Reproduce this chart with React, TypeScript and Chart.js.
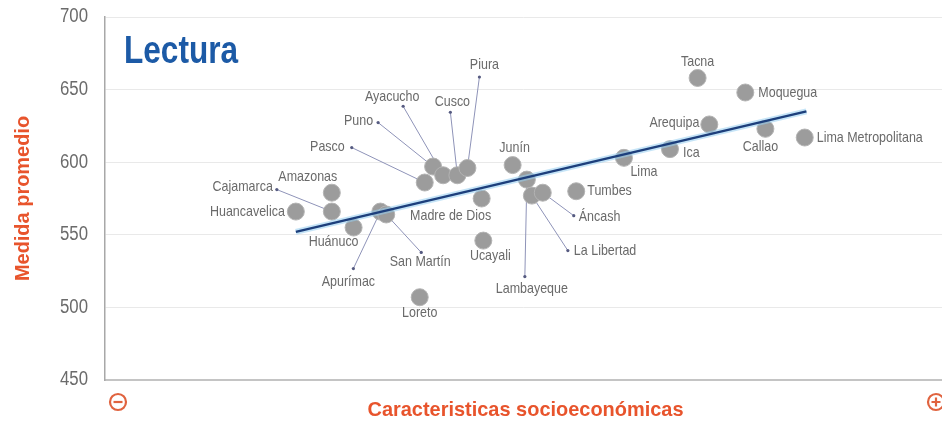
import React, { useEffect, useRef } from "react";
import { Chart, registerables } from "chart.js";

Chart.register(...registerables);

// ---------- data ----------
const regions = [
  "Huancavelica", "Cajamarca", "Amazonas", "Huánuco", "Apurímac", "San Martín",
  "Loreto", "Pasco", "Puno", "Ayacucho", "Cusco", "Piura", "Madre de Dios",
  "Ucayali", "Junín", "Lambayeque", "La Libertad", "Áncash", "Tumbes", "Lima",
  "Ica", "Tacna", "Arequipa", "Moquegua", "Callao", "Lima Metropolitana",
];
const socioeconomicIndex = [
  22.8, 27.1, 27.1, 29.7, 32.9, 33.6,
  37.6, 38.2, 39.2, 40.4, 42.1, 43.3, 45.0,
  45.2, 48.7, 50.4, 51.0, 52.3, 56.3, 62.0,
  67.5, 70.8, 72.2, 76.5, 78.9, 83.6,
];
const readingScore = [
  566, 566, 579, 555, 566, 564,
  507, 586, 597, 591, 591, 596, 575,
  546, 598, 588, 577, 579, 580, 603,
  609, 658, 626, 648, 623, 617,
];
const trendX = [22.8, 83.8];
const trendY = [552, 635];
const yTickValues = [450, 500, 550, 600, 650, 700];

const chartTitle = "Lectura";
const yTitle = "Medida promedio";
const xTitle = "Caracteristicas socioeconómicas";

// ---------- label placement (pixel offsets from each point) ----------
type LabelPos = { dx: number; dy: number; align: CanvasTextAlign; mx?: number; my?: number };
const labelPlacement: Record<string, LabelPos> = {
  "Huancavelica": { dx: -11, dy: 0, align: "right" },
  "Cajamarca": { dx: -59, dy: -25, align: "right", mx: -55, my: -22 },
  "Amazonas": { dx: -24, dy: -16, align: "center" },
  "Huánuco": { dx: -20, dy: 14, align: "center" },
  "Apurímac": { dx: -32, dy: 70, align: "center", mx: -27, my: 57 },
  "San Martín": { dx: 34, dy: 48, align: "center", mx: 35, my: 38 },
  "Loreto": { dx: 0, dy: 16, align: "center" },
  "Pasco": { dx: -80, dy: -36, align: "right", mx: -73, my: -35 },
  "Puno": { dx: -60, dy: -46, align: "right", mx: -55, my: -44 },
  "Ayacucho": { dx: -51, dy: -78, align: "center", mx: -40, my: -69 },
  "Cusco": { dx: -5, dy: -73, align: "center", mx: -7, my: -63 },
  "Piura": { dx: 17, dy: -103, align: "center", mx: 12, my: -91 },
  "Madre de Dios": { dx: -31, dy: 17, align: "center" },
  "Ucayali": { dx: 7, dy: 15, align: "center" },
  "Junín": { dx: 2, dy: -17, align: "center" },
  "Lambayeque": { dx: 5, dy: 109, align: "center", mx: -2, my: 97 },
  "La Libertad": { dx: 42, dy: 55, align: "left", mx: 36, my: 55 },
  "Áncash": { dx: 36, dy: 24, align: "left", mx: 31, my: 23 },
  "Tumbes": { dx: 11, dy: 0, align: "left" },
  "Lima": { dx: 20, dy: 14, align: "center" },
  "Ica": { dx: 13, dy: 4, align: "left" },
  "Tacna": { dx: 0, dy: -16, align: "center" },
  "Arequipa": { dx: -10, dy: -1, align: "right" },
  "Moquegua": { dx: 13, dy: 0, align: "left" },
  "Callao": { dx: -5, dy: 18, align: "center" },
  "Lima Metropolitana": { dx: 12, dy: 0, align: "left" },
};

const FONT = '"Liberation Sans", Arial, sans-serif';
const ORANGE = "#e8542c";
const POINT_DS = 2;

function squeezedText(
  ctx: CanvasRenderingContext2D, text: string, x: number, y: number,
  align: CanvasTextAlign, sx: number,
) {
  ctx.save();
  ctx.translate(x, y);
  ctx.scale(sx, 1);
  ctx.textAlign = align;
  ctx.fillText(text, 0, 0);
  ctx.restore();
}

const decorPlugin = {
  id: "decor",
  beforeDatasetsDraw(chart: any) {
    const ctx = chart.ctx;
    const meta = chart.getDatasetMeta(POINT_DS);
    ctx.save();
    regions.forEach((name, i) => {
      const p = labelPlacement[name];
      const el = meta.data[i];
      if (!p || p.mx === undefined || !el) return;
      const mx = el.x + p.mx;
      const my = el.y + (p.my as number);
      ctx.strokeStyle = "#8e93b8";
      ctx.lineWidth = 1;
      ctx.beginPath();
      ctx.moveTo(mx, my);
      ctx.lineTo(el.x, el.y);
      ctx.stroke();
      ctx.fillStyle = "#555a80";
      ctx.beginPath();
      ctx.arc(mx, my, 1.6, 0, Math.PI * 2);
      ctx.fill();
    });
    ctx.restore();
  },
  afterDatasetsDraw(chart: any) {
    const ctx = chart.ctx;
    const meta = chart.getDatasetMeta(POINT_DS);
    ctx.save();
    ctx.font = `14.5px ${FONT}`;
    ctx.fillStyle = "#6a6a6a";
    ctx.textBaseline = "middle";
    regions.forEach((name, i) => {
      const p = labelPlacement[name];
      const el = meta.data[i];
      if (!p || !el) return;
      squeezedText(ctx, name, el.x + p.dx, el.y + p.dy, p.align, 0.86);
    });
    ctx.restore();
  },
  afterDraw(chart: any) {
    const ctx = chart.ctx;
    const area = chart.chartArea;
    const yScale = chart.scales.y;
    ctx.save();
    // y tick labels
    ctx.font = `19.5px ${FONT}`;
    ctx.fillStyle = "#6b6b6b";
    ctx.textBaseline = "middle";
    yTickValues.forEach((v) => {
      squeezedText(ctx, String(v), area.left - 17, yScale.getPixelForValue(v), "right", 0.86);
    });
    // title inside plot
    ctx.font = `bold 39px ${FONT}`;
    ctx.fillStyle = "#1c5aa6";
    ctx.textBaseline = "alphabetic";
    squeezedText(ctx, chartTitle, area.left + 19, 63, "left", 0.81);
    // y axis title
    ctx.save();
    ctx.translate(23, (area.top + area.bottom) / 2);
    ctx.rotate(-Math.PI / 2);
    ctx.font = `bold 21px ${FONT}`;
    ctx.fillStyle = ORANGE;
    ctx.textBaseline = "middle";
    squeezedText(ctx, yTitle, 0, 0, "center", 0.95);
    ctx.restore();
    // x axis title
    ctx.font = `bold 21px ${FONT}`;
    ctx.fillStyle = ORANGE;
    ctx.textBaseline = "middle";
    squeezedText(ctx, xTitle, (area.left + area.right) / 2 + 2, 410, "center", 0.95);
    // minus / plus symbols
    const sym = (cx: number, cy: number, plus: boolean) => {
      ctx.strokeStyle = "#e0633f";
      ctx.lineWidth = 2.2;
      ctx.beginPath();
      ctx.arc(cx, cy, 8, 0, Math.PI * 2);
      ctx.stroke();
      ctx.beginPath();
      ctx.moveTo(cx - 4.5, cy);
      ctx.lineTo(cx + 4.5, cy);
      if (plus) {
        ctx.moveTo(cx, cy - 4.5);
        ctx.lineTo(cx, cy + 4.5);
      }
      ctx.stroke();
    };
    sym(area.left + 13, 402, false);
    sym(area.right - 6, 402, true);
    ctx.restore();
  },
};

export default function App() {
  const ref = useRef<HTMLCanvasElement | null>(null);
  useEffect(() => {
    document.body.style.margin = "0";
    const canvas = ref.current;
    if (!canvas) return;
    const trend = trendX.map((x, i) => ({ x, y: trendY[i] }));
    const points = socioeconomicIndex.map((x, i) => ({ x, y: readingScore[i] }));
    const chart = new Chart(canvas, {
      type: "scatter",
      data: {
        datasets: [
          {
            type: "line",
            data: trend,
            borderColor: "#1d3f7c",
            borderWidth: 2.5,
            pointRadius: 0,
            showLine: true,
            fill: false,
          } as any,
          {
            type: "line",
            data: trend,
            borderColor: "rgba(150,205,240,0.55)",
            borderWidth: 6,
            pointRadius: 0,
            showLine: true,
            fill: false,
          } as any,
          {
            data: points,
            backgroundColor: "#9c9c9c",
            borderColor: "#b3b3b3",
            borderWidth: 1,
            pointRadius: 8.5,
            pointHoverRadius: 8.5,
          },
        ],
      },
      options: {
        animation: false,
        responsive: false,
        events: [],
        layout: { autoPadding: false, padding: { top: 17, right: 0, bottom: 0, left: 0 } },
        plugins: { legend: { display: false }, tooltip: { enabled: false } },
        scales: {
          x: {
            type: "linear",
            min: 0,
            max: 100,
            ticks: { display: false },
            grid: { display: false, drawTicks: false },
            border: { display: true, color: "#c4c4c4", width: 2 },
            afterFit: (axis: any) => { axis.height = 45; },
          },
          y: {
            min: yTickValues[0],
            max: yTickValues[yTickValues.length - 1],
            ticks: { stepSize: 50, display: false },
            grid: { color: "#e9e9e9", lineWidth: 1, drawTicks: false },
            border: { display: true, color: "#a8a8a8", width: 1.5 },
            afterFit: (axis: any) => { axis.width = 105; },
          },
        },
      },
      plugins: [decorPlugin],
    });
    return () => chart.destroy();
  }, []);
  return (
    <div style={{ width: 942, height: 425, background: "#fff" }}>
      <canvas ref={ref} width={942} height={425} style={{ display: "block" }} />
    </div>
  );
}
